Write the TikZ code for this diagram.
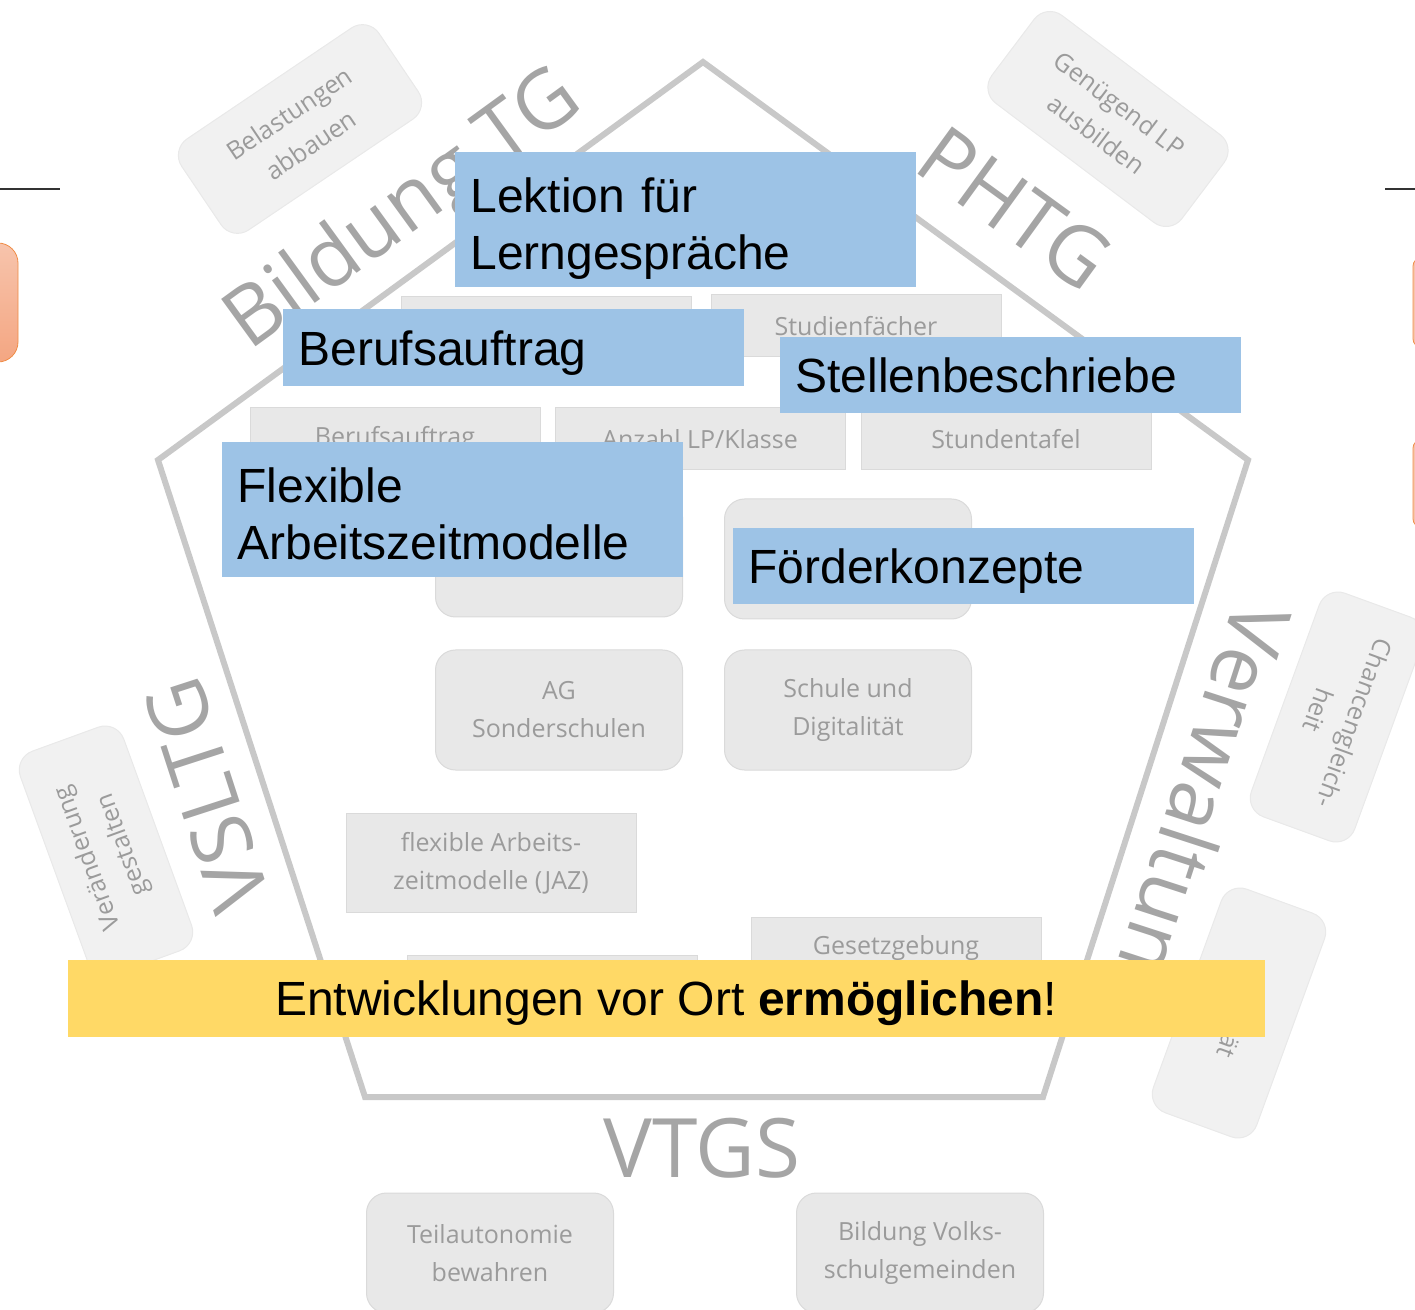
\documentclass[tikz,border=0pt]{standalone}
\usepackage{fontspec}
\setmainfont{Liberation Sans}
\newfontfamily\cardfont{Open Sans}
\usepackage{tikz}
\definecolor{boxblue}{RGB}{157,195,230}
\definecolor{boxyellow}{RGB}{255,217,102}
\definecolor{edgegray}{RGB}{200,200,200}
\definecolor{taggray}{RGB}{165,165,165}
\definecolor{cardtext}{RGB}{155,155,155}
\definecolor{cardfill}{RGB}{232,232,232}
\definecolor{cardline}{RGB}{218,218,218}
\definecolor{softfill}{RGB}{241,241,241}
\definecolor{orangeline}{RGB}{240,140,70}
\definecolor{orangetop}{RGB}{247,196,172}
\definecolor{orangebot}{RGB}{244,166,130}

\begin{document}
\begin{tikzpicture}[x=0.5pt,y=-0.5pt,
 bigtag/.style={text=taggray,font=\cardfont\fontsize{41}{41}\selectfont,inner sep=0pt},
 card/.style={draw=cardline,line width=0.5pt,fill=cardfill,text=cardtext,
  font=\cardfont\fontsize{12.5}{19}\selectfont,align=center,
  minimum width=145pt,minimum height=31pt,inner sep=0pt},
 roundcard/.style={card,rounded corners=10pt,minimum width=123.5pt,minimum height=60pt},
 tiltcard/.style={roundcard,fill=softfill,draw=cardline!60,minimum width=119pt,minimum height=55pt},
 bluebox/.style={fill=boxblue,font=\fontsize{24}{28.5}\selectfont,text width=214.5pt,
  align=left,inner xsep=8pt,inner ysep=0pt,minimum height=38.5pt,text depth=0pt},
 twoline/.style={minimum height=67.5pt,text depth=24.5pt},
 ]
\useasboundingbox (0,0) rectangle (1415,1310);
\clip (0,0) rectangle (1415,1310);
% frame of the slide
\draw[line width=1pt,black!80](0,189)--(60,189)
(1385,189)--(1415,189);
\draw[orangeline,top color=orangetop,bottom color=orangebot,rounded corners=10pt](-60,243)rectangle(18,362);
\draw[orangeline,fill=orangetop,rounded corners=4pt](1413,258)rectangle(1500,347)
(1413,440)rectangle(1500,527);
% pentagon
\draw[edgegray,line width=3pt](703,62)--(1248,460)--(1043,1097)--(365,1097)--(158,460)--cycle;
\node[bigtag,rotate=36] (bildung) at (405,212) {Bildung TG};
\node[bigtag,rotate=-36] (phtg) at (1015,208) {PHTG};
\node[bigtag,rotate=108] (vsltg) at (207,795) {VSLTG};
\node[bigtag,rotate=-108] (verwaltung) at (1190,808) {Verwaltung};
\node[bigtag] (vtgs) at (702,1148) {VTGS};
% tilted cards outside
\node[tiltcard,rotate=34] (belastung) at (300,129) {Belastungen\\abbauen};
\node[tiltcard,rotate=-37] (ausbilden) at (1108,119) {Genügend LP\\ausbilden};
\node[tiltcard,rotate=110] (veraenderung) at (106,851) {Veränderung\\gestalten};
\node[tiltcard,rotate=-110] (chancen) at (1337,717) {Chancengleich-\\heit};
\node[tiltcard,rotate=-110] (qualitaet) at (1239,1013) {Qualität};
\node[roundcard] (teilauto) at (490,1253) {Teilautonomie\\bewahren};
\node[roundcard] (volksschul) at (920,1253) {Bildung Volks-\\schulgemeinden};
% cards inside
\node[card] (hidden1) at (546,328) {};
\node[card] (studien) at (856,326) {Studienfächer};
\node[card] (auftrag) at (395,439) {Berufsauftrag};
\node[card] (anzahl) at (700,439) {Anzahl LP/Klasse};
\node[card] (tafel) at (1006,439) {Stundentafel};
\node[roundcard] (hidden3) at (559,557) {};
\node[roundcard] (hidden4) at (848,559) {};
\node[roundcard] (sonder) at (559,710) {AG\\Sonderschulen};
\node[roundcard] (digital) at (848,710) {Schule und\\Digitalität};
\node[card,minimum height=49.5pt] (jaz) at (491,863) {flexible Arbeits-\\zeitmodelle (JAZ)};
\node[card] (hidden2) at (552,986) {};
\node[card] (gesetz) at (896,948) {Gesetzgebung};
% overlay
\node[bluebox,twoline] (lektion) at (685,220) {Lektion für\\Lerngespräche};
\node[bluebox] (beruf) at (513,348) {Berufsauftrag};
\node[bluebox,minimum height=38pt] (stellen) at (1010,375) {Stellenbeschriebe};
\node[bluebox,twoline] (flexibel) at (452,510) {Flexible\\Arbeitszeitmodelle};
\node[bluebox,minimum height=38pt] (foerder) at (963,566) {Förderkonzepte};
\node[fill=boxyellow,font=\fontsize{24}{28.5}\selectfont,minimum width=598.5pt,minimum height=38.5pt,
 inner sep=0pt,text depth=0pt] (ort) at (666,998) {Entwicklungen vor Ort \textbf{ermöglichen}!};
\end{tikzpicture}
\end{document}
